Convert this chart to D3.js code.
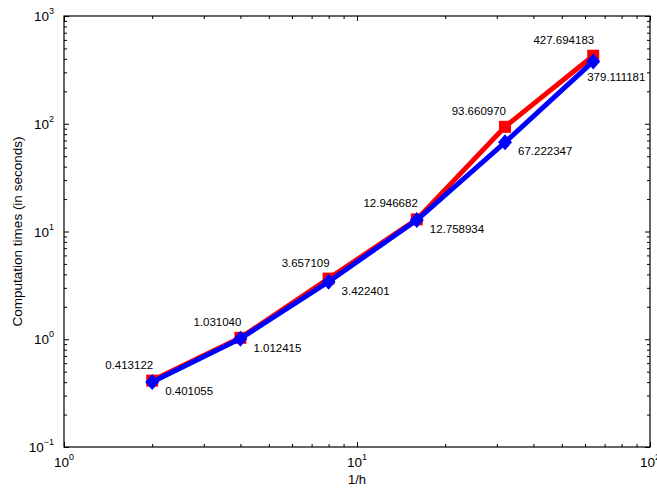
<!DOCTYPE html>
<html>
<head>
<meta charset="utf-8">
<script src="https://cdn.jsdelivr.net/npm/d3@7"></script>
<style>
  body { margin: 0; background: #fff; }
  svg { font-family: "Liberation Sans", Arial, sans-serif; }
  .domain { display: none; }
</style>
</head>
<body>
<svg id="chart" width="657" height="488"></svg>
<script>
const hInv = [2, 4, 8, 16, 32, 64];
const redTimes = [0.413122, 1.031040, 3.657109, 12.946682, 93.660970, 427.694183];
const blueTimes = [0.401055, 1.012415, 3.422401, 12.758934, 67.222347, 379.111181];
const redLabels = ['0.413122', '1.031040', '3.657109', '12.946682', '93.660970', '427.694183'];
const blueLabels = ['0.401055', '1.012415', '3.422401', '12.758934', '67.222347', '379.111181'];
const xDecades = [0, 1, 2];
const yDecades = [-1, 0, 1, 2, 3];

const svg = d3.select('#chart');
const margin = { top: 16, right: 7, bottom: 41, left: 64 };
const width = 657, height = 488;
const innerWidth = width - margin.left - margin.right;
const innerHeight = height - margin.top - margin.bottom;

const grp = svg.append('g')
  .attr('transform', 'translate(' + margin.left + ',' + margin.top + ')');

const xScale = d3.scaleLog().domain([1, 100]).range([0, innerWidth]);
const yScale = d3.scaleLog().domain([0.1, 1000]).range([innerHeight, 0]);

function minors(decades) {
  const out = [];
  decades.slice(0, -1).forEach(e => {
    for (let k = 2; k <= 9; k++) out.push(k * Math.pow(10, e));
  });
  return out;
}
const xMajor = xDecades.map(e => Math.pow(10, e));
const yMajor = yDecades.map(e => Math.pow(10, e));

// inward ticks on all four sides
function tickSet(axisFn, scale, vals, len, transform) {
  const g = grp.append('g')
    .attr('transform', transform)
    .call(axisFn(scale).tickValues(vals).tickSize(-len).tickFormat(''));
  g.selectAll('text').remove();
  g.selectAll('line').attr('stroke', '#000').attr('stroke-width', 1);
}
const tb = 'translate(0,' + innerHeight + ')';
const tr = 'translate(' + innerWidth + ',0)';
tickSet(d3.axisBottom, xScale, xMajor, 5, tb);
tickSet(d3.axisBottom, xScale, minors(xDecades), 3, tb);
tickSet(d3.axisTop, xScale, xMajor, 5, 'translate(0,0)');
tickSet(d3.axisTop, xScale, minors(xDecades), 3, 'translate(0,0)');
tickSet(d3.axisLeft, yScale, yMajor, 5, 'translate(0,0)');
tickSet(d3.axisLeft, yScale, minors(yDecades), 3, 'translate(0,0)');
tickSet(d3.axisRight, yScale, yMajor, 5, tr);
tickSet(d3.axisRight, yScale, minors(yDecades), 3, tr);

grp.append('rect')
  .attr('width', innerWidth).attr('height', innerHeight)
  .attr('fill', 'none').attr('stroke', '#000').attr('stroke-width', 1.2);

// tick labels with superscript exponents
xDecades.forEach(e => {
  const t = grp.append('text')
    .attr('x', xScale(Math.pow(10, e)))
    .attr('y', innerHeight + 20)
    .attr('text-anchor', 'middle')
    .attr('font-size', 13.5);
  t.append('tspan').text('10');
  t.append('tspan').attr('dy', -7).attr('font-size', 9).text(e);
});
yDecades.forEach(e => {
  const t = grp.append('text')
    .attr('x', -10)
    .attr('y', yScale(Math.pow(10, e)) + 5)
    .attr('text-anchor', 'end')
    .attr('font-size', 13.5);
  t.append('tspan').text('10');
  t.append('tspan').attr('dy', -7).attr('font-size', 9).text(e < 0 ? '\u22121' : e);
});

svg.append('text')
  .attr('x', margin.left + innerWidth / 2)
  .attr('y', 484)
  .attr('text-anchor', 'middle')
  .attr('font-size', 13)
  .text('1/h');

svg.append('text')
  .attr('transform', 'translate(22,' + (margin.top + innerHeight / 2) + ') rotate(-90)')
  .attr('text-anchor', 'middle')
  .attr('font-size', 13.5)
  .text('Computation times (in seconds)');

// series
const line = d3.line().x(d => xScale(d[0])).y(d => yScale(d[1]));
const redData = hInv.map((h, i) => [h, redTimes[i]]);
const blueData = hInv.map((h, i) => [h, blueTimes[i]]);

grp.append('path').datum(redData)
  .attr('d', line).attr('fill', 'none')
  .attr('stroke', '#ff0000').attr('stroke-width', 5);
grp.selectAll('.sq').data(redData).enter().append('rect')
  .attr('class', 'sq')
  .attr('x', d => xScale(d[0]) - 6).attr('y', d => yScale(d[1]) - 6)
  .attr('width', 12).attr('height', 12)
  .attr('fill', '#ff0000');

grp.append('path').datum(blueData)
  .attr('d', line).attr('fill', 'none')
  .attr('stroke', '#0000ff').attr('stroke-width', 5);
grp.selectAll('.dia').data(blueData).enter().append('path')
  .attr('class', 'dia')
  .attr('transform', d => 'translate(' + xScale(d[0]) + ',' + yScale(d[1]) + ')')
  .attr('d', 'M0,-8L7,0L0,8L-7,0Z')
  .attr('fill', '#0000ff');

// value labels
grp.selectAll('.rl').data(redData).enter().append('text')
  .attr('class', 'rl')
  .attr('x', d => xScale(d[0]) + 1)
  .attr('y', d => yScale(d[1]) - 12)
  .attr('text-anchor', 'end')
  .attr('font-size', 11.5)
  .text((d, i) => redLabels[i]);

const lastIdx = blueData.length - 1;
grp.selectAll('.bl').data(blueData).enter().append('text')
  .attr('class', 'bl')
  .attr('x', (d, i) => xScale(d[0]) + (i === lastIdx ? -6 : 13))
  .attr('y', (d, i) => yScale(d[1]) + (i === lastIdx ? 20 : 13))
  .attr('font-size', 11.5)
  .text((d, i) => blueLabels[i]);
</script>
</body>
</html>
